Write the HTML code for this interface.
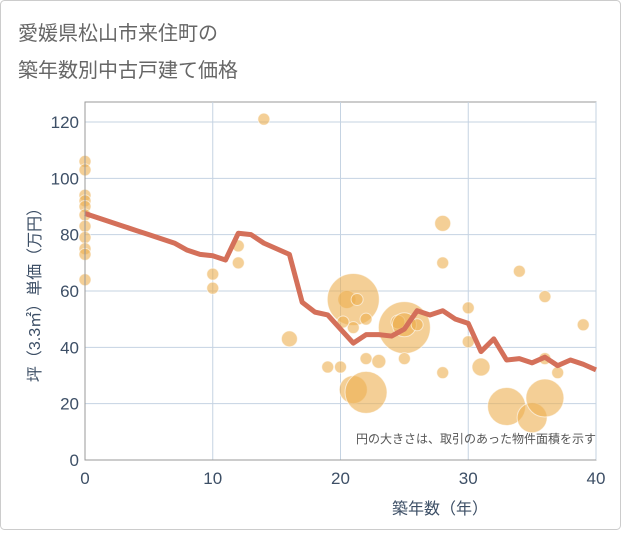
<!DOCTYPE html>
<html><head><meta charset="utf-8"><style>
body{margin:0;background:#fff;}
svg text{font-family:"Liberation Sans","Noto Sans CJK JP",sans-serif;}
</style></head><body>
<svg width="621" height="530">
<rect x="0.5" y="0.5" width="620" height="529" rx="4" fill="#fff" stroke="#ccc"/>
<text x="18" y="40" font-size="20" fill="#666">愛媛県松山市来住町の</text>
<text x="18" y="77" font-size="20" fill="#666">築年数別中古戸建て価格</text>
<g id="grid"></g><g id="bubbles"></g><g id="line"></g><g id="axes"></g>
<text x="596" y="443" font-size="12" fill="#555" text-anchor="end">円の大きさは、取引のあった物件面積を示す</text>
<text x="440" y="514" font-size="16" fill="#3d4f66" text-anchor="middle">築年数（年）</text>
<text transform="translate(40,291) rotate(-90)" font-size="16" fill="#3d4f66" text-anchor="middle">坪（3.3㎡）単価（万円）</text>
</svg>
<script>
const xTicks=[0,10,20,30,40];
const yTicks=[0,20,40,60,80,100,120];
const lineYears=[0,1,2,3,4,5,6,7,8,9,10,11,12,13,14,15,16,17,18,19,20,21,22,23,24,25,26,27,28,29,30,31,32,33,34,35,36,37,38,39,40];
const lineValues=[87.5,86,84.5,83,81.5,80,78.5,77,74.5,73,72.5,71,80.5,80,77,75,73,56,52.5,51.5,46.5,41.5,44.5,44.5,44,46.5,53,51.5,53,50,48.5,38.5,43,35.5,36,34.5,36.5,33.5,35.5,34,32];
const bubbleYears=[0,0,0,0,0,0,0,0,0,0,0,10,10,12,12,14,16,19,20,20.5,21,21.3,21,20.2,22,21,22,22,23,25,24.5,25,25,26,28,28,28,30,30,31,33,34,35,36,36,36,37,39];
const bubbleValues=[106,103,94,92,90,87,83,79,75,73,64,66,61,76,70,121,43,33,33,57,57,57,47,49,50,25,24,36,35,47,49,48,36,48,84,70,31,54,42,33,19,67,15,58,22,36,31,48];
const bubbleRadii=[6,6,6,6,6,6,6,6,6,6,6,6,6,6,6,6,8,6,6,9,26,6,6,6,6,14,21,6,7,26,7,12,6,6,8,6,6,6,6,9,19,6,15,6,19,6,6,6];
const X0=85,X1=596,Y0=460,Y1=122;
const sx=v=>X0+(v-0)/(40-0)*(X1-X0);
const sy=v=>Y0-(v/120)*(Y0-Y1);
const NS="http://www.w3.org/2000/svg";
function mk(t,p,a){const e=document.createElementNS(NS,t);for(const k in a)e.setAttribute(k,a[k]);p.appendChild(e);return e;}
const grid=document.getElementById('grid'),axes=document.getElementById('axes');
mk('rect',grid,{x:X0,y:102,width:X1-X0,height:Y0-102,fill:'#fff',stroke:'#999'});
xTicks.forEach(t=>{const l=mk('line',grid,{x1:sx(t),x2:sx(t),y1:102,y2:Y0,stroke:'#c5d3e2','stroke-width':1});


const tx=mk('text',axes,{x:sx(t),y:Y0+24,'font-size':17,fill:'#3d4f66','text-anchor':'middle'});tx.textContent=t;

});
yTicks.forEach(t=>{const l=mk('line',grid,{x1:X0,x2:X1,y1:sy(t),y2:sy(t),stroke:'#c5d3e2','stroke-width':1});


const tx=mk('text',axes,{x:X0-6,y:sy(t)+6,'font-size':17,fill:'#3d4f66','text-anchor':'end'});tx.textContent=t;

});
mk('line',axes,{x1:X0,x2:X1,y1:Y0,y2:Y0,stroke:'#999'});
mk('line',axes,{x1:X0,x2:X0,y1:102,y2:Y0,stroke:'#999'});
const bg=document.getElementById('bubbles');
bubbleYears.forEach((yr,i)=>{const c=mk('circle',bg,{cx:sx(yr),cy:sy(bubbleValues[i]),r:bubbleRadii[i],fill:'rgba(236,175,80,0.6)',stroke:'rgba(255,255,255,0.6)','stroke-width':1});

});
const pts=lineYears.map((y,i)=>sx(y)+','+sy(lineValues[i])).join(' ');
const pl=mk('polyline',document.getElementById('line'),{points:pts,fill:'none',stroke:'#d4705a','stroke-width':5,'stroke-linejoin':'round'});


</script>
</body></html>
